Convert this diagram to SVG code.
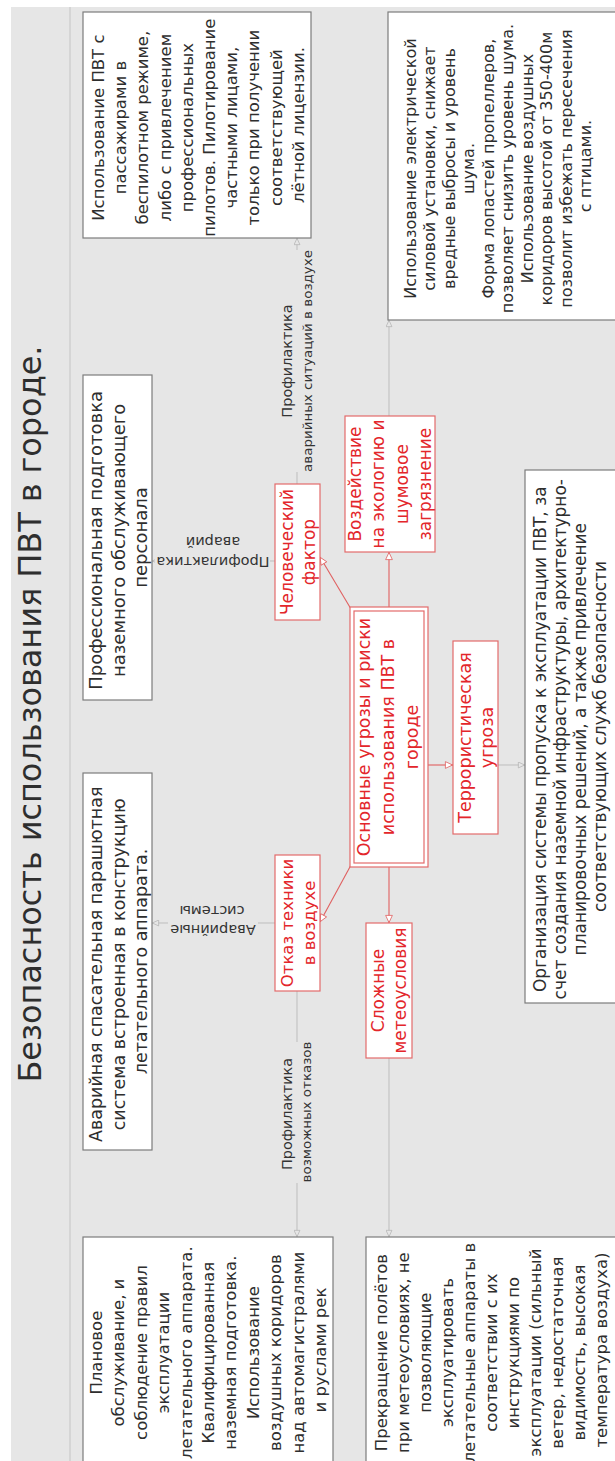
<svg xmlns="http://www.w3.org/2000/svg" width="615" height="1461" viewBox="0 0 615 1461">
<defs>
<style>
.bg{fill:#e6e6e6}
.box{fill:#ffffff;stroke:#7c7c7c;stroke-width:1.2}
.rbox{fill:#ffffff;stroke:#e36b6b;stroke-width:1.2}
.t{font-family:"DejaVu Sans",sans-serif;fill:#2e2e2e;text-anchor:middle}
.rt{font-family:"DejaVu Sans",sans-serif;fill:#e3262b;text-anchor:middle}
.lbl{font-family:"DejaVu Sans",sans-serif;fill:#333333;text-anchor:middle}
.gl{stroke:#bdbdbd;stroke-width:1;fill:none;marker-end:url(#ag)}
.rl{stroke:#e06060;stroke-width:1.1;fill:none;marker-end:url(#ar)}
.mask{fill:#e6e6e6}
</style>
<marker id="ag" viewBox="0 0 10 10" refX="10" refY="5" markerWidth="9" markerHeight="7" orient="auto" markerUnits="userSpaceOnUse"><path d="M0.5,0.8 L9.5,5 L0.5,9.2 z" fill="#e6e6e6" stroke="#b0b0b0" stroke-width="1"/></marker>
<marker id="ar" viewBox="0 0 10 10" refX="10" refY="5" markerWidth="10" markerHeight="8" orient="auto" markerUnits="userSpaceOnUse"><path d="M0.5,0.8 L9.5,5 L0.5,9.2 z" fill="#ffffff" stroke="#e06060" stroke-width="1"/></marker>
</defs>
<rect width="615" height="1461" fill="#ffffff"/>
<rect class="bg" x="11" y="7" width="604" height="1454"/>
<line x1="70" y1="7" x2="70" y2="1461" stroke="#c4c4c4" stroke-width="1"/>
<g transform="translate(0,1461) rotate(-90)">
<g id="title"><text class="t" x="747" y="41" font-size="32" textLength="737" lengthAdjust="spacing">Безопасность использования ПВТ в городе.</text></g>
<g id="connectors">
<path class="rl" d="M852,351 L904,320"/>
<path class="rl" d="M854,389 L909,389"/>
<path class="rl" d="M696,428 L696,453"/>
<path class="rl" d="M596,351 L539,320"/>
<path class="rl" d="M594,389 L538,389"/>
<path class="gl" d="M900,275 L900,152"/>
<path class="gl" d="M538,275 L538,152"/>
<path class="gl" d="M977,297 L1223,297"/>
<path class="gl" d="M470,297 L224,297"/>
<path class="gl" d="M1045,389 L1141,389"/>
<path class="gl" d="M403,389 L224,389"/>
<path class="gl" d="M696,498 L696,525"/>
</g>
<g id="label-air">
<rect class="mask" x="989" y="279" width="222" height="37"/>
<text class="lbl" x="1100" y="292" font-size="14.5">Профилактика</text>
<text class="lbl" x="1100" y="311.5" font-size="12.5" textLength="222" lengthAdjust="spacingAndGlyphs">аварийных ситуаций в воздухе</text>
</g>
<g id="label-fail">
<rect class="mask" x="278" y="279" width="141" height="37"/>
<text class="lbl" x="347" y="292" font-size="14.5" textLength="112" lengthAdjust="spacingAndGlyphs">Профилактика</text>
<text class="lbl" x="349" y="311" font-size="11.5" textLength="141" lengthAdjust="spacingAndGlyphs">возможных отказов</text>
</g>
<g id="nodeA">
<rect class="box" x="1223" y="83" width="226" height="228"/>
<text class="t" font-size="16.5">
<tspan x="1336" y="104">Использование ПВТ с</tspan>
<tspan x="1336" y="126.2">пассажирами в</tspan>
<tspan x="1336" y="148.4">беспилотном режиме,</tspan>
<tspan x="1336" y="170.6">либо с привлечением</tspan>
<tspan x="1336" y="192.8">профессиональных</tspan>
<tspan x="1336" y="215">пилотов. Пилотирование</tspan>
<tspan x="1336" y="237.2">частными лицами,</tspan>
<tspan x="1336" y="259.4">только при получении</tspan>
<tspan x="1336" y="281.6">соответствующей</tspan>
<tspan x="1336" y="303.8">лётной лицензии.</tspan>
</text>
</g>
<g id="nodeB">
<rect class="box" x="761" y="83" width="325" height="69"/>
<text class="t" font-size="18">
<tspan x="923.5" y="102">Профессиональная подготовка</tspan>
<tspan x="923.5" y="124.5">наземного обслуживающего</tspan>
<tspan x="923.5" y="147">персонала</tspan>
</text>
</g>
<g id="nodeC">
<rect class="box" x="311" y="83" width="377" height="69"/>
<text class="t" font-size="17.5">
<tspan x="499.5" y="102">Аварийная спасательная парашютная</tspan>
<tspan x="499.5" y="124.5">система встроенная в конструкцию</tspan>
<tspan x="499.5" y="147">летательного аппарата.</tspan>
</text>
</g>
<g id="nodeD">
<rect class="box" x="-3" y="83" width="227" height="250"/>
<text class="t" font-size="16.5">
<tspan x="111" y="102">Плановое</tspan>
<tspan x="111" y="124.4">обслуживание, и</tspan>
<tspan x="111" y="146.8">соблюдение правил</tspan>
<tspan x="111" y="169.2">эксплуатации</tspan>
<tspan x="111" y="191.6">летательного аппарата.</tspan>
<tspan x="111" y="214">Квалифицированная</tspan>
<tspan x="111" y="236.4">наземная подготовка.</tspan>
<tspan x="111" y="258.8">Использование</tspan>
<tspan x="111" y="281.2">воздушных коридоров</tspan>
<tspan x="111" y="303.6">над автомагистралями</tspan>
<tspan x="111" y="326">и руслами рек</tspan>
</text>
</g>
<g id="nodeE">
<rect class="box" x="-3" y="366" width="227" height="260"/>
<text class="t" font-size="16.5">
<tspan x="111" y="387">Прекращение полётов</tspan>
<tspan x="111" y="409">при метеоусловиях, не</tspan>
<tspan x="111" y="431">позволяющие</tspan>
<tspan x="111" y="453">эксплуатировать</tspan>
<tspan x="111" y="475">летательные аппараты в</tspan>
<tspan x="111" y="497">соответствии с их</tspan>
<tspan x="111" y="519">инструкциями по</tspan>
<tspan x="111" y="541">эксплуатации (сильный</tspan>
<tspan x="111" y="563">ветер, недостаточная</tspan>
<tspan x="111" y="585">видимость, высокая</tspan>
<tspan x="111" y="607">температура воздуха)</tspan>
</text>
</g>
<g id="nodeF">
<rect class="box" x="1141" y="388" width="308" height="235"/>
<text class="t" font-size="16">
<tspan x="1295" y="415.5">Использование электрической</tspan>
<tspan x="1295" y="435">силовой установки, снижает</tspan>
<tspan x="1295" y="454.5">вредные выбросы и уровень</tspan>
<tspan x="1295" y="474">шума.</tspan>
<tspan x="1295" y="493.5">Форма лопастей пропеллеров,</tspan>
<tspan x="1295" y="513">позволяет снизить уровень шума.</tspan>
<tspan x="1295" y="532.5">Использование воздушных</tspan>
<tspan x="1295" y="552">коридоров высотой от 350-400м</tspan>
<tspan x="1295" y="571.5">позволит избежать пересечения</tspan>
<tspan x="1295" y="591">с птицами.</tspan>
</text>
</g>
<g id="nodeG">
<rect class="box" x="458" y="525" width="533" height="100"/>
<text class="t" font-size="17">
<tspan x="724.5" y="546">Организация системы пропуска к эксплуатации ПВТ, за</tspan>
<tspan x="724.5" y="566">счет создания наземной инфраструктуры, архитектурно-</tspan>
<tspan x="724.5" y="586">планировочных решений, а также привлечение</tspan>
<tspan x="724.5" y="606">соответствующих служб безопасности</tspan>
</text>
</g>
<g id="nodeHuman">
<rect class="rbox" x="841" y="275" width="136" height="45"/>
<text class="rt" font-size="17"><tspan x="909" y="293">Человеческий</tspan><tspan x="909" y="315">фактор</tspan></text>
</g>
<g id="nodeEco">
<rect class="rbox" x="909" y="345" width="136" height="90"/>
<text class="rt" font-size="17"><tspan x="977" y="361">Воздействие</tspan><tspan x="977" y="384">на экологию и</tspan><tspan x="977" y="408">шумовое</tspan><tspan x="977" y="431">загрязнение</tspan></text>
</g>
<g id="nodeMain">
<rect class="rbox" x="594" y="350" width="260" height="78"/>
<rect class="rbox" x="598" y="354" width="252" height="70"/>
<text class="rt" font-size="17.5"><tspan x="724" y="370">Основные угрозы и риски</tspan><tspan x="724" y="394">использования ПВТ в</tspan><tspan x="724" y="418">городе</tspan></text>
</g>
<g id="nodeTerror">
<rect class="rbox" x="627" y="453" width="193" height="45"/>
<text class="rt" font-size="17.5"><tspan x="723.5" y="471">Террористическая</tspan><tspan x="723.5" y="493">угроза</tspan></text>
</g>
<g id="nodeFailure">
<rect class="rbox" x="470" y="275" width="136" height="45"/>
<text class="rt" font-size="16.5"><tspan x="538" y="293">Отказ техники</tspan><tspan x="538" y="315">в воздухе</tspan></text>
</g>
<g id="nodeWeather">
<rect class="rbox" x="403" y="366" width="135" height="46"/>
<text class="rt" font-size="17"><tspan x="470.5" y="384">Сложные</tspan><tspan x="470.5" y="406">метеоусловия</tspan></text>
</g>
</g>
<g id="label-accidents">
<rect class="mask" x="155" y="532" width="115" height="40"/>
<text class="lbl" transform="translate(213,562) rotate(180)" y="5" font-size="14.5">Профилактика</text>
<text class="lbl" transform="translate(213,542) rotate(180)" y="5" font-size="14.5">аварий</text>
</g>
<g id="label-systems">
<rect class="mask" x="168" y="901" width="90" height="40"/>
<text class="lbl" transform="translate(213,930) rotate(180)" y="5" font-size="14.5">Аварийные</text>
<text class="lbl" transform="translate(212,911) rotate(180)" y="5" font-size="14.5">системы</text>
</g>
</svg>
